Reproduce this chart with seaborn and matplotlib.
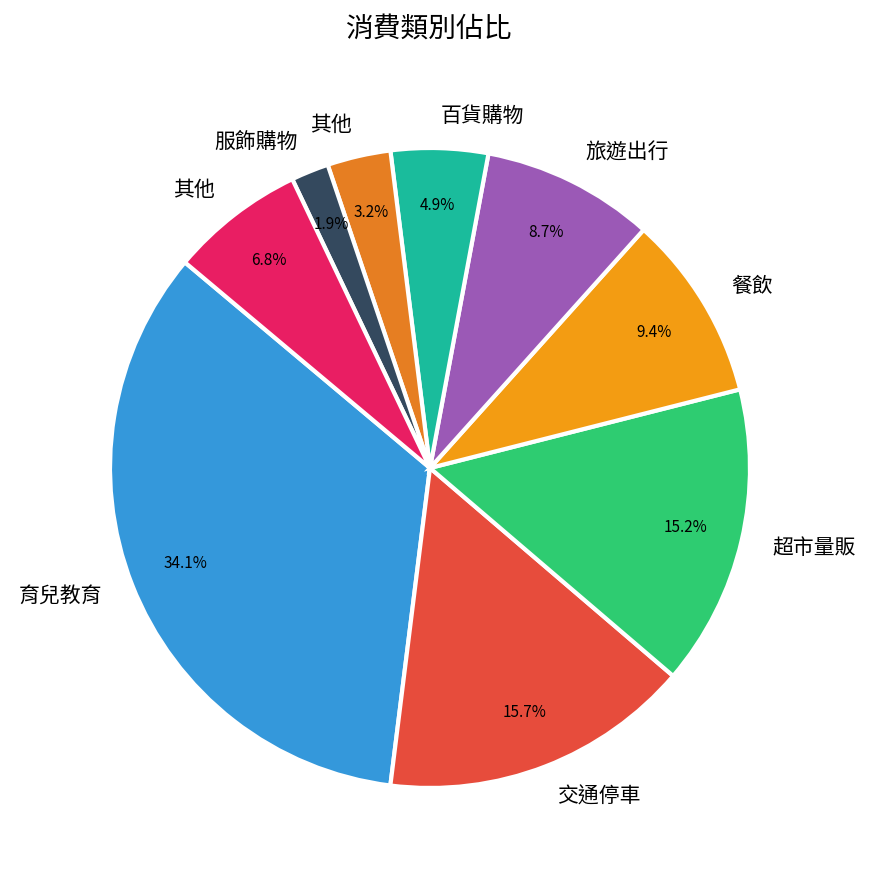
import matplotlib
matplotlib.use('Agg')
import matplotlib.pyplot as plt
import seaborn as sns

sns.set_theme(style='white')
plt.rcParams['font.family'] = ['Noto Sans CJK TC', 'DejaVu Sans']

# 消費類別 (counterclockwise from start angle)
categories = ['育兒教育', '交通停車', '超市量販', '餐飲', '旅遊出行',
              '百貨購物', '其他', '服飾購物', '其他']
shares = [34.1, 15.7, 15.2, 9.4, 8.7, 4.9, 3.2, 1.9, 6.8]
colors = ['#3498db', '#e74c3c', '#2ecc71', '#f39c12', '#9b59b6',
          '#1abc9c', '#e67e22', '#34495e', '#e91e63']

fig = plt.figure(figsize=(8.7, 8.85), dpi=100)
ax = fig.add_axes([0.0345, 0.0192, 0.9195, 0.904])

wedges, texts, autotexts = ax.pie(
    shares, labels=categories, colors=colors, startangle=140,
    autopct='%1.1f%%', pctdistance=0.82, labeldistance=1.1,
    wedgeprops={'edgecolor': 'white', 'linewidth': 3},
    textprops={'fontsize': 15, 'color': 'black'})
for t in autotexts:
    t.set_fontsize(11)
ax.set_aspect('equal')

fig.text(0.492, 0.968, '消費類別佔比', ha='center', va='center',
         fontsize=20, color='black', fontweight='medium')

fig.savefig('out.png', dpi=100)
